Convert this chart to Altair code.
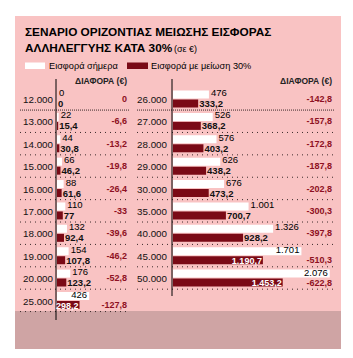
import altair as alt
import pandas as pd

# ---------------- data ----------------
LEFT_INCOME = ["12.000", "13.000", "14.000", "15.000", "16.000",
               "17.000", "18.000", "19.000", "20.000", "25.000"]
LEFT_TODAY = [0, 22, 44, 66, 88, 110, 132, 154, 176, 426]
LEFT_REDUCED = [0, 15.4, 30.8, 46.2, 61.6, 77, 92.4, 107.8, 123.2, 298.2]
LEFT_DIFF = [0, -6.6, -13.2, -19.8, -26.4, -33, -39.6, -46.2, -52.8, -127.8]

RIGHT_INCOME = ["26.000", "27.000", "28.000", "29.000", "30.000",
                "35.000", "40.000", "45.000", "50.000"]
RIGHT_TODAY = [476, 526, 576, 626, 676, 1001, 1326, 1701, 2076]
RIGHT_REDUCED = [333.2, 368.2, 403.2, 438.2, 473.2, 700.7, 928.2, 1190.7, 1453.2]
RIGHT_DIFF = [-142.8, -157.8, -172.8, -187.8, -202.8, -300.3, -397.8, -510.3, -622.8]

INSIDE_ROWS = ["25.000", "45.000", "50.000"]

TITLE_1 = "ΣΕΝΑΡΙΟ ΟΡΙΖΟΝΤΙΑΣ ΜΕΙΩΣΗΣ ΕΙΣΦΟΡΑΣ"
TITLE_2 = "ΑΛΛΗΛΕΓΓΥΗΣ ΚΑΤΑ 30%"
TITLE_UNIT = "(σε €)"
LEGEND_TODAY = "Εισφορά σήμερα"
LEGEND_REDUCED = "Εισφορά με μείωση 30%"
HEADER = "ΔΙΑΦΟΡΑ (€)"

# ---------------- style ----------------
PINK = "#F9C3C3"
DARK = "#7A0A16"
DIFFC = "#8E1022"
FONT = "Liberation Sans, Arial, Helvetica, sans-serif"
PX_PER_EUR = 0.0755
XMAX = 2200


def gr(v):
    if float(v).is_integer():
        s = f"{int(abs(v)):,}"
    else:
        s = f"{abs(v):,.1f}"
    s = s.replace(",", "X").replace(".", ",").replace("X", ".")
    return ("-" if v < 0 else "") + s


def panel_df(inc, today, red, diff):
    df = pd.DataFrame({"income": inc, "today": today, "reduced": red, "diff": diff})
    df["row"] = list(range(len(df)))
    df["today_lbl"] = [gr(v) for v in today]
    df["red_lbl"] = [gr(v) for v in red]
    df["diff_lbl"] = [gr(v) for v in diff]
    df["inside"] = df["income"].isin(INSIDE_ROWS)
    return df


YS = alt.Scale(domain=[0, 9], range=[95, 306.5], nice=False, zero=False)
one = pd.DataFrame({"a": [0]})


def xscale(start):
    return alt.Scale(domain=[0, XMAX], range=[start, start + XMAX * PX_PER_EUR],
                     nice=False, zero=False)


def panel(df, bar_start, label_x, diff_x, sep_x1, sep_x2, axis_x, axis_y2):
    base = alt.Chart(df)
    xs = xscale(bar_start)
    y = alt.Y("row:Q", scale=YS, axis=None)
    xt = alt.X("today:Q", scale=xs, axis=None)
    xr = alt.X("reduced:Q", scale=xs, axis=None)
    seps = base.transform_calculate(sep="datum.row + 0.45").mark_rule(
        color="#3a2a2a", strokeWidth=1).encode(
        x=alt.value(sep_x1), x2=alt.value(sep_x2),
        y=alt.Y("sep:Q", scale=YS, axis=None),
        strokeDash=alt.condition("datum.row == 0", alt.value([1, 1]), alt.value([1, 4])))
    axis = alt.Chart(one).mark_rule(color="black", strokeWidth=1).encode(
        x=alt.value(axis_x), y=alt.value(79), y2=alt.value(axis_y2))
    white = base.mark_bar(orient="horizontal", size=8, yOffset=-5.5, color="white").encode(x=xt, y=y)
    dark = base.mark_bar(orient="horizontal", size=8, yOffset=3.5, color=DARK).encode(x=xr, y=y)
    out_rows = base.transform_filter("!datum.inside")
    in_rows = base.transform_filter("datum.inside")
    t_out = out_rows.mark_text(
        align="left", baseline="middle", dx=2, dy=-7, font=FONT, fontSize=9.5,
        color="black").encode(x=xt, y=y, text="today_lbl:N")
    r_out = out_rows.mark_text(
        align="left", baseline="middle", dx=1, dy=4, font=FONT, fontSize=9.5,
        fontWeight="bold", color="#111").encode(x=xr, y=y, text="red_lbl:N")
    t_in = in_rows.mark_text(
        align="right", baseline="middle", dx=-2, dy=-6.5, font=FONT, fontSize=9.5,
        color="black").encode(x=xt, y=y, text="today_lbl:N")
    r_in = in_rows.mark_text(
        align="right", baseline="middle", dx=-1, dy=4, font=FONT, fontSize=9,
        fontWeight="bold", color="white").encode(x=xr, y=y, text="red_lbl:N")
    inc = base.mark_text(align="right", baseline="middle", font=FONT, fontSize=9.8,
                         color="#111").encode(x=alt.value(label_x), y=y, text="income:N")
    dif_out = out_rows.mark_text(align="right", baseline="middle", font=FONT, fontSize=9,
                                 dy=-1, fontWeight="bold", color=DIFFC).encode(
        x=alt.value(diff_x), y=y, text="diff_lbl:N")
    dif_in = in_rows.mark_text(align="right", baseline="middle", font=FONT, fontSize=9,
                               dy=3.5, fontWeight="bold", color=DIFFC).encode(
        x=alt.value(diff_x), y=y, text="diff_lbl:N")
    return [seps, axis, white, dark, t_out, r_out, t_in, r_in, inc, dif_out, dif_in]


left = panel_df(LEFT_INCOME, LEFT_TODAY, LEFT_REDUCED, LEFT_DIFF)
right = panel_df(RIGHT_INCOME, RIGHT_TODAY, RIGHT_REDUCED, RIGHT_DIFF)

bg = alt.Chart(one).mark_rect(color=PINK).encode(
    x=alt.value(15), x2=alt.value(341), y=alt.value(16), y2=alt.value(349))
coins = alt.Chart(one).mark_rect(color="#6e5c5c", opacity=0.3).encode(
    x=alt.value(15), x2=alt.value(341), y=alt.value(311), y2=alt.value(349))


def txt(s, x, y, size, weight="normal", color="black", align="left"):
    return alt.Chart(one).mark_text(align=align, baseline="middle", font=FONT,
                                    fontSize=size, fontWeight=weight, color=color).encode(
        x=alt.value(x), y=alt.value(y), text=alt.value(s))


title1 = txt(TITLE_1, 25, 32, 11.8, "bold")
title2 = txt(TITLE_2, 25, 48, 11.8, "bold")
unit = txt(TITLE_UNIT, 174, 49, 9)
leg_w = alt.Chart(one).mark_rect(color="white").encode(
    x=alt.value(25), x2=alt.value(45), y=alt.value(62.5), y2=alt.value(69))
leg_d = alt.Chart(one).mark_rect(color=DARK).encode(
    x=alt.value(127), x2=alt.value(148), y=alt.value(62.5), y2=alt.value(69))
leg_t1 = txt(LEGEND_TODAY, 49, 66, 9.2)
leg_t2 = txt(LEGEND_REDUCED, 151, 66, 9.2)
hdr_l = txt(HEADER, 127, 81, 8.5, "bold", "#222", "right")
hdr_r = txt(HEADER, 332, 81, 8.5, "bold", "#222", "right")

layers = [bg, coins, title1, title2, unit, leg_w, leg_d, leg_t1, leg_t2, hdr_l, hdr_r]
layers += panel(left, 57, 53, 127, 20, 130, 56, 320)
layers += panel(right, 173, 167, 332, 137, 334, 172, 296)

chart = alt.layer(*layers).resolve_scale(x="independent").properties(
    width=353, height=358, padding=0,
    autosize=alt.AutoSizeParams(type="none"), background="white"
).configure_view(stroke=None)

chart.save("out.html", embed_options={"renderer": "svg", "actions": False})
